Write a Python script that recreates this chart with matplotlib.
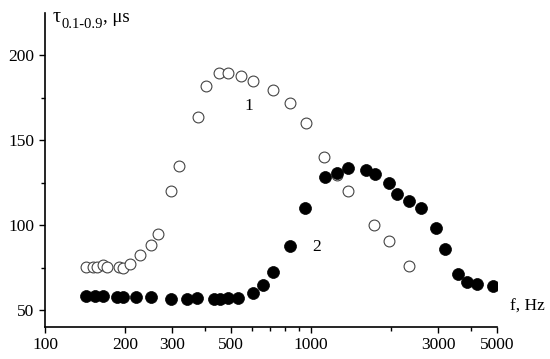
import matplotlib
matplotlib.use("Agg")
import matplotlib.pyplot as plt
from matplotlib.ticker import FixedLocator, NullFormatter, FixedFormatter

# Series 1 (open circles)
f1 = [143, 152, 157, 165, 171, 189, 197, 209, 228, 250, 265, 298, 319, 375, 403,
      452, 486, 547, 605, 720, 836, 955, 1122, 1249, 1374, 1730, 1970, 2342]
t1 = [75.4, 75.4, 75.4, 76.5, 75.4, 75.4, 75.0, 77.4, 82.2, 88.1, 94.9, 120.3, 134.9,
      163.8, 182.0, 189.8, 189.8, 187.8, 184.7, 179.9, 172.0, 160.1, 140.4, 129.5,
      120.3, 100.2, 90.4, 75.8]

# Series 2 (filled circles)
f2 = [143, 154, 165, 186, 197, 220, 250, 297, 341, 374, 432, 455, 489, 533, 604,
      662, 718, 834, 949, 1129, 1249, 1374, 1606, 1736, 1970, 2100, 2336, 2585, 2951,
      3190, 3579, 3848, 4220, 4845]
t2 = [58.4, 58.4, 58.2, 57.8, 57.4, 57.4, 57.4, 56.4, 56.4, 57.0, 56.4, 56.4, 56.9,
      57.2, 59.8, 64.6, 72.4, 87.5, 110.2, 128.1, 131.0, 133.4, 132.6, 130.1, 124.6,
      118.4, 114.4, 110.2, 98.2, 85.7, 71.5, 66.6, 65.6, 64.2]

x_major = [100, 200, 300, 500, 1000, 3000, 5000]
x_major_labels = ["100", "200", "300", "500", "1000", "3000", "5000"]
x_minor = [400, 600, 700, 800, 900, 2000, 4000]
y_major = [50, 100, 150, 200]
y_minor = [75, 125, 175]

SERIF = "Liberation Serif"
plt.rcParams["font.family"] = [SERIF, "DejaVu Serif"]

fig = plt.figure(figsize=(5.5, 3.59), dpi=100)
ax = fig.add_axes([45 / 550, 1 - 327 / 359, (497 - 45) / 550, (327 - 13) / 359])

ax.plot(f1, t1, linestyle="none", marker="o", markersize=7.8,
        markerfacecolor="white", markeredgecolor="#444444", markeredgewidth=0.8,
        zorder=2)
ax.plot(f2, t2, linestyle="none", marker="o", markersize=8.6,
        markerfacecolor="black", markeredgecolor="black", markeredgewidth=0.5,
        zorder=3)

ax.set_xscale("log")
ax.set_xlim(100, 5000)
ax.set_ylim(40, 225)

ax.xaxis.set_major_locator(FixedLocator(x_major))
ax.xaxis.set_major_formatter(FixedFormatter(x_major_labels))
ax.xaxis.set_minor_locator(FixedLocator(x_minor))
ax.xaxis.set_minor_formatter(NullFormatter())
ax.yaxis.set_major_locator(FixedLocator(y_major))
ax.yaxis.set_minor_locator(FixedLocator(y_minor))

for s in ["top", "right"]:
    ax.spines[s].set_visible(False)
for s in ["left", "bottom"]:
    ax.spines[s].set_linewidth(1.2)

ax.tick_params(which="major", direction="out", length=4.5, width=1.0,
               labelsize=12.5, pad=3)
ax.tick_params(which="minor", direction="out", length=3, width=1.0)
for lab in ax.get_xticklabels() + ax.get_yticklabels():
    lab.set_fontfamily(SERIF)

ax.text(586, 170.5, "1", fontsize=12.5, ha="center", va="center", family=SERIF)
ax.text(1053, 86.9, "2", fontsize=12.5, ha="center", va="center", family=SERIF)

fig.text(527 / 550, 1 - 307 / 359, "f, Hz", fontsize=12.5, ha="center",
         va="center", family=SERIF)

# y-axis title with subscript
fig.canvas.draw()
r = fig.canvas.get_renderer()
base_y = 1 - 22 / 359
t_tau = fig.text(53 / 550, base_y, "τ", fontsize=14.5, ha="left",
                 va="baseline", family=SERIF)
bb = t_tau.get_window_extent(renderer=r)
t_sub = fig.text(bb.x1 / 550 + 0.001, base_y - 6 / 359, "0.1-0.9",
                 fontsize=10.5, ha="left", va="baseline", family=SERIF)
bb2 = t_sub.get_window_extent(renderer=r)
fig.text(bb2.x1 / 550, base_y, ", μs", fontsize=13.5, ha="left",
         va="baseline", family=SERIF)

fig.savefig("out.png", dpi=100)
